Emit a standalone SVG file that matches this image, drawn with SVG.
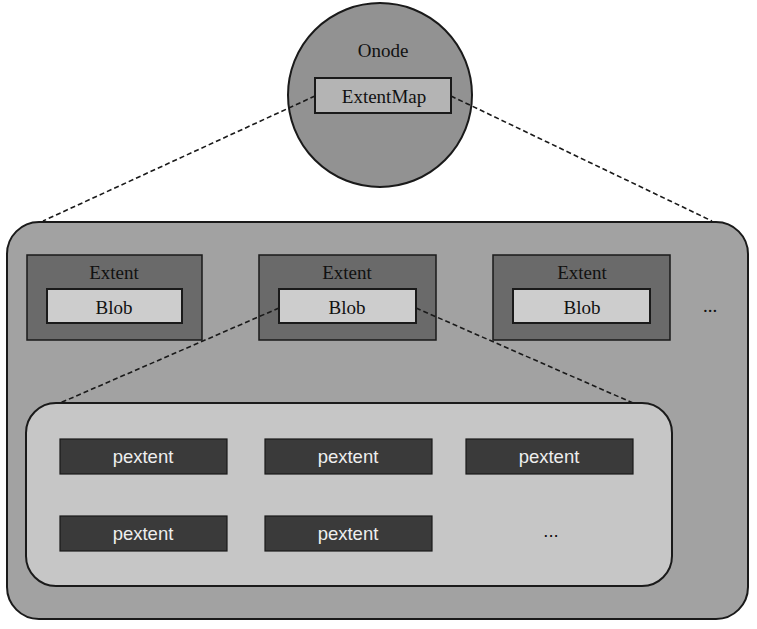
<svg xmlns="http://www.w3.org/2000/svg" width="757" height="629" viewBox="0 0 757 629">
<style>
.serif{font-family:"Liberation Serif","Times New Roman",serif;font-size:19px;fill:#111;text-anchor:middle}
.sans{font-family:"Liberation Sans",Arial,sans-serif;font-size:18.5px;fill:#eee;text-anchor:middle}
.extent{fill:#6a6a6a;stroke:#1a1a1a;stroke-width:1.5}
.blob{fill:#cdcdcd;stroke:#1a1a1a;stroke-width:2}
.pext{fill:#3a3a3a;stroke:#1a1a1a;stroke-width:1.2}
.dash{fill:none;stroke:#1a1a1a;stroke-width:1.6;stroke-dasharray:5,3}
</style>
<rect width="757" height="629" fill="#ffffff"/>
<g id="outer">
<rect x="7" y="222" width="741" height="397" rx="32" ry="32" fill="#a2a2a2" stroke="#1a1a1a" stroke-width="2"/>
</g>
<g id="onode">
<circle cx="380" cy="95" r="92" fill="#929292" stroke="#1a1a1a" stroke-width="2"/>
<text class="serif" x="383" y="57">Onode</text>
</g>
<g id="extentmap">
<rect x="315" y="78" width="136" height="35" fill="#b4b4b4" stroke="#1a1a1a" stroke-width="2"/>
<text class="serif" x="384" y="103">ExtentMap</text>
</g>
<g id="extent1">
<rect class="extent" x="27" y="255" width="175" height="85"/>
<text class="serif" x="114" y="279">Extent</text>
<rect class="blob" x="47" y="289" width="135" height="34"/>
<text class="serif" x="114" y="314">Blob</text>
</g>
<g id="extent2">
<rect class="extent" x="259" y="255" width="177" height="85"/>
<text class="serif" x="347" y="279">Extent</text>
<rect class="blob" x="279" y="289" width="137" height="34"/>
<text class="serif" x="347" y="314">Blob</text>
</g>
<g id="extent3">
<rect class="extent" x="493" y="255" width="177" height="85"/>
<text class="serif" x="582" y="279">Extent</text>
<rect class="blob" x="513" y="289" width="137" height="34"/>
<text class="serif" x="582" y="314">Blob</text>
</g>
<g id="extent-more">
<text class="serif" x="710" y="312">...</text>
</g>
<g id="inner">
<rect x="26" y="403" width="646" height="183" rx="30" ry="30" fill="#c6c6c6" stroke="#1a1a1a" stroke-width="2"/>
</g>
<g id="pextent1"><rect class="pext" x="60" y="439" width="167" height="35"/><text class="sans" x="143" y="463">pextent</text></g>
<g id="pextent2"><rect class="pext" x="265" y="439" width="167" height="35"/><text class="sans" x="348" y="463">pextent</text></g>
<g id="pextent3"><rect class="pext" x="466" y="439" width="167" height="35"/><text class="sans" x="549" y="463">pextent</text></g>
<g id="pextent4"><rect class="pext" x="60" y="516" width="167" height="35"/><text class="sans" x="143" y="540">pextent</text></g>
<g id="pextent5"><rect class="pext" x="265" y="516" width="167" height="35"/><text class="sans" x="348" y="540">pextent</text></g>
<g id="pextent-more"><text class="sans" x="551" y="537" style="fill:#111">...</text></g>
<g id="connectors">
<line class="dash" x1="315" y1="96" x2="43" y2="221"/>
<line class="dash" x1="451" y1="96" x2="712" y2="221"/>
<line class="dash" x1="279" y1="308" x2="60" y2="403"/>
<line class="dash" x1="416" y1="308" x2="633" y2="403"/>
</g>
</svg>
